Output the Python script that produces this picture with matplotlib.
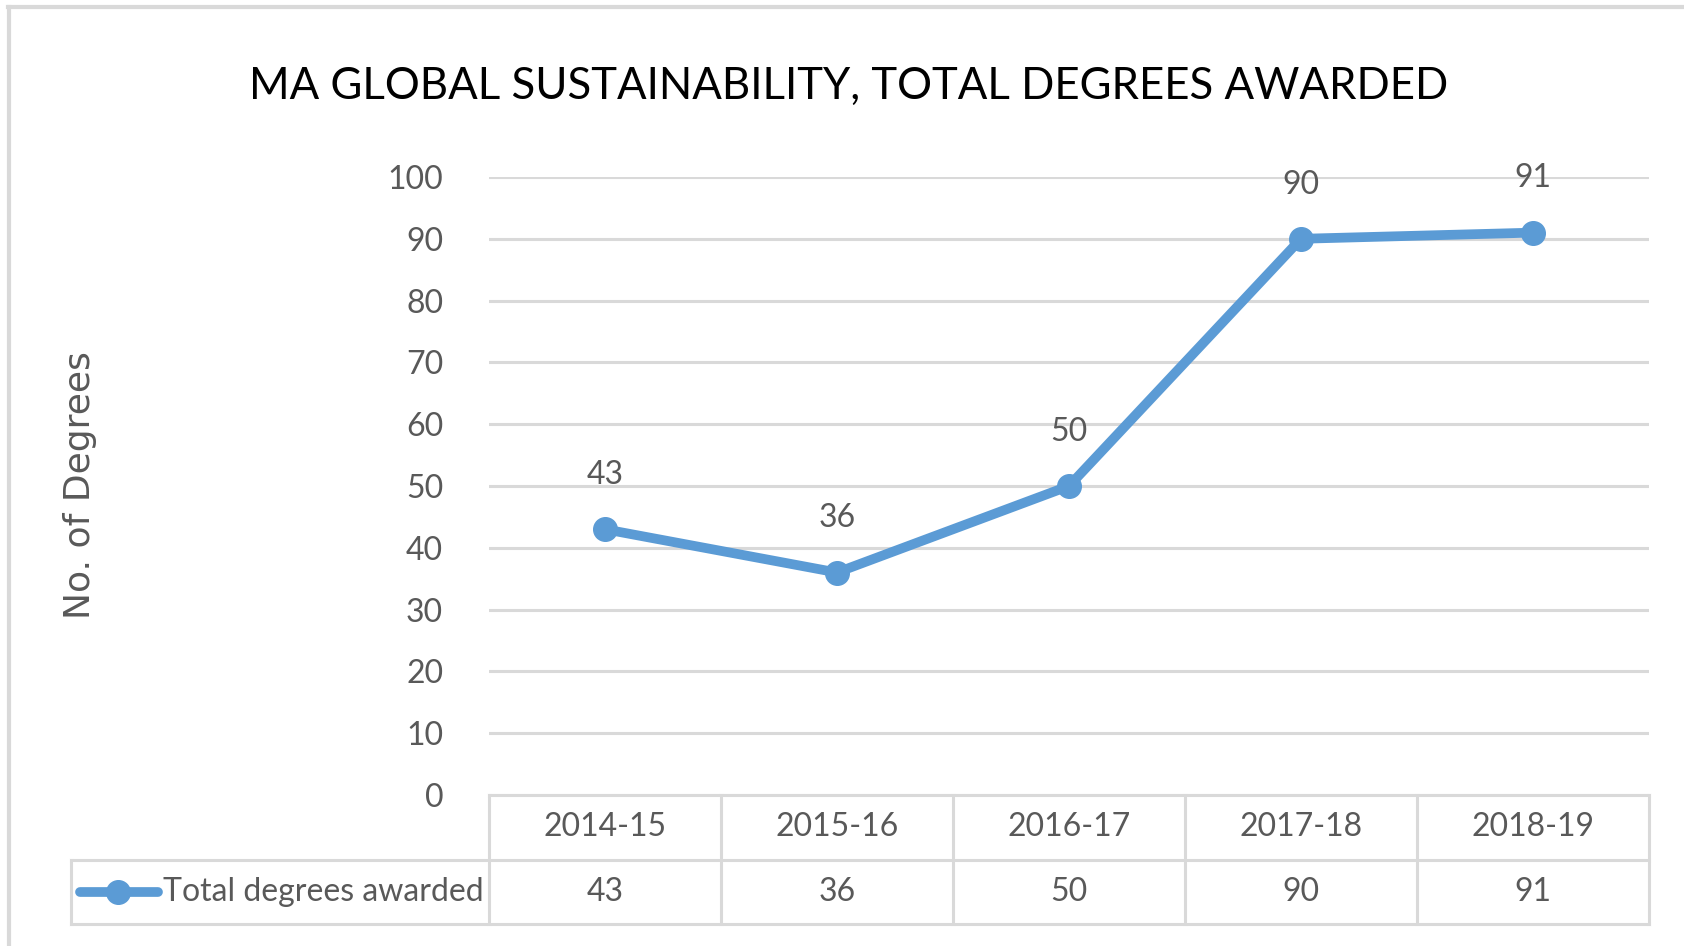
import matplotlib
matplotlib.use("Agg")
import matplotlib.pyplot as plt
from matplotlib.lines import Line2D
import numpy as np

# ── Data ──
years = ["2014-15", "2015-16", "2016-17", "2017-18", "2018-19"]
degrees = [43, 36, 50, 90, 91]
series_name = "Total degrees awarded"
y_ticks = [0, 10, 20, 30, 40, 50, 60, 70, 80, 90, 100]

C_LINE = "#5B9BD5"
C_GRID = "#D9D9D9"
C_TEXT = "#595959"
NARROW = ["Lato", "DejaVu Sans"]
FS = 23

W, H = 1684, 946
fig = plt.figure(figsize=(W / 100, H / 100), dpi=100)


def fx(px):
    return px / W


def fy(py):
    return 1 - py / H


# outer chart frame (top and left edges visible)
fig.add_artist(Line2D([fx(8), 1], [fy(7), fy(7)], color=C_GRID, lw=3, transform=fig.transFigure))
fig.add_artist(Line2D([fx(9), fx(9)], [fy(7), 0], color=C_GRID, lw=3, transform=fig.transFigure))

fig.text(fx(849), fy(86), "MA GLOBAL SUSTAINABILITY, TOTAL DEGREES AWARDED",
         ha="center", va="center", fontsize=31.5, color="#000000", family=NARROW)

# ── Plot area ──
L, R, T, B = 489, 1649, 177, 795
ax = fig.add_axes([fx(L), fy(B), fx(R) - fx(L), fy(T) - fy(B)])
x = np.arange(len(years)) + 0.5
ax.plot(x, degrees, "-o", color=C_LINE, lw=7, markersize=17, zorder=3,
        solid_capstyle="round", clip_on=False)
for xi, v in zip(x, degrees):
    ax.annotate(str(v), (xi, v), textcoords="offset points", xytext=(0, 39),
                ha="center", va="center", fontsize=FS, color=C_TEXT, family=NARROW)
ax.set_xlim(0, len(years))
ax.set_ylim(0, 100)
ax.set_yticks(y_ticks)
ax.set_yticklabels([str(t) for t in y_ticks], fontsize=FS, color=C_TEXT, family=NARROW)
ax.tick_params(axis="y", length=0, pad=33)
ax.set_xticks([])
ax.grid(axis="y", color=C_GRID, lw=2.2)
ax.set_axisbelow(True)
for s in ax.spines.values():
    s.set_visible(False)

fig.text(fx(80), fy(485), "No. of Degrees", rotation=90, ha="center", va="center",
         fontsize=26, color=C_TEXT, family="DejaVu Sans")

# ── Data table below the axis ──
tb_top, tb_mid, tb_bot = 795, 859, 924
tab = fig.add_axes([fx(L), fy(tb_bot), fx(R) - fx(L), fy(tb_top) - fy(tb_bot)])
tab.set_xlim(0, len(years))
tab.set_ylim(2, 0)
tab.axis("off")
colw = (R - L) / len(years)
xleg = (71 - L) / colw

kw = dict(color=C_GRID, lw=2.2, clip_on=False)
tab.plot([0, len(years)], [0, 0], **kw)
tab.plot([xleg, len(years)], [1, 1], **kw)
tab.plot([xleg, len(years)], [2, 2], **kw)
for i in range(len(years) + 1):
    tab.plot([i, i], [0, 2], **kw)
tab.plot([xleg, xleg], [1, 2], **kw)

for xi, yr, v in zip(x, years, degrees):
    tab.text(xi, 0.5, yr, ha="center", va="center", fontsize=FS, color=C_TEXT, family=NARROW)
    tab.text(xi, 1.5, str(v), ha="center", va="center", fontsize=FS, color=C_TEXT, family=NARROW)

# legend key in the table
k0, k1, kc = (80 - L) / colw, (158 - L) / colw, (118 - L) / colw
tab.plot([k0, k1], [1.5, 1.5], color=C_LINE, lw=7, solid_capstyle="round", clip_on=False)
tab.plot([kc], [1.5], "o", color=C_LINE, markersize=17, clip_on=False)
tab.text((163 - L) / colw, 1.5, series_name, ha="left", va="center", fontsize=FS,
         color=C_TEXT, family=NARROW)

fig.savefig("out.png", dpi=100, facecolor="white")
